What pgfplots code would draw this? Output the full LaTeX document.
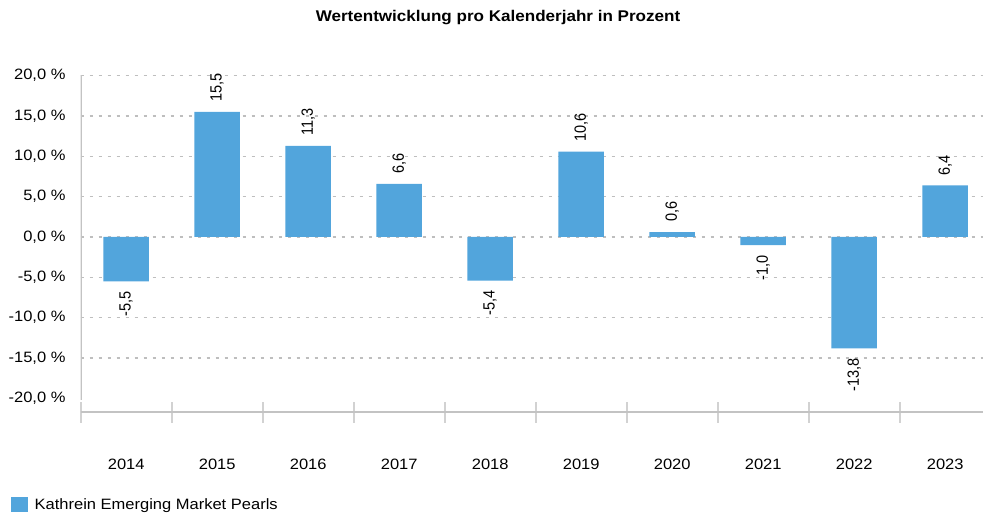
\documentclass[border=0pt]{standalone}
\usepackage{fontspec}
\setmainfont{Liberation Sans}[FakeStretch=1.1]
\newfontfamily\lblfont{Liberation Sans}
\usepackage{pgfplots}
\pgfplotsset{compat=1.18}
\definecolor{barblue}{RGB}{82,165,220}
\definecolor{gridgray}{RGB}{190,190,190}
\definecolor{axisgray}{RGB}{195,195,195}
\definecolor{tickgray}{RGB}{210,210,210}
\begin{document}
\fontsize{15bp}{18bp}\selectfont
\begin{tikzpicture}
\begin{axis}[
  at={(80.7bp,-412bp)}, anchor=south west,
  scale only axis, width=910bp, height=336.3bp,
  xmin=-0.5, xmax=9.5, ymin=-21.7, ymax=20,
  ybar, bar width=0.5,
  axis line style={draw=none},
  tick pos=left,
  xtick={0,...,9},
  xticklabels={2014,2015,2016,2017,2018,2019,2020,2021,2022,2023},
  minor xtick={-0.5,0.5,...,9.5},
  major tick length=0pt,
  minor tick length=21bp,
  tick align=center,
  minor tick style={draw=tickgray, line width=2bp},
  xticklabel style={yshift=-42bp, font=\fontsize{15bp}{18bp}\selectfont},
  ytick={-15,-10,...,20},
  yticklabels={-15{,}0 \%,-10{,}0 \%,-5{,}0 \%,0{,}0 \%,5{,}0 \%,10{,}0 \%,15{,}0 \%,20{,}0 \%},
  extra y ticks={-20},
  extra y tick labels={-20{,}0 \%},
  extra y tick style={grid=none},
  yticklabel style={xshift=-10bp, font=\fontsize{15bp}{18bp}\selectfont},
  ymajorgrids,
  major grid style={draw=gridgray, line width=1.3bp, dash pattern=on 3bp off 6bp},
  point meta=explicit symbolic,
  nodes near coords,
  every node near coord/.append style={rotate=90, yscale=1.12, inner xsep=10bp, inner ysep=0pt, font=\lblfont\fontsize{14.5bp}{17bp}\selectfont, text=black},
  legend style={draw=none, fill=none, at={(rel axis cs:-0.0766,-0.2765)}, anchor=west, inner sep=0pt,
    font=\fontsize{15bp}{18bp}\selectfont},
  legend cell align=left,
  legend image code/.code={\fill[barblue] (0bp,-7.5bp) rectangle (16.7bp,7.5bp); \path (21.5bp,0bp);},
]
\addplot[fill=barblue, draw=none, bar shift=0pt,
  every node near coord/.append style={anchor=west}]
  coordinates {(1,15.5)[15,5] (2,11.3)[11,3] (3,6.6)[6,6] (5,10.6)[10,6] (6,0.6)[0,6] (9,6.4)[6,4]};
\addlegendentry{Kathrein Emerging Market Pearls}
\addplot[fill=barblue, draw=none, bar shift=0pt, forget plot,
  every node near coord/.append style={anchor=east}]
  coordinates {(0,-5.5)[-5,5] (4,-5.4)[-5,4] (7,-1.0)[-1,0] (8,-13.8)[-13,8]};
\draw[draw=axisgray, line width=2bp] (axis cs:-0.5,20.2) -- (axis cs:-0.5,-20.2);
\draw[draw=axisgray, line width=1.5bp] (axis cs:-0.5,-21.7) -- (axis cs:9.5,-21.7);
\end{axis}
\node[font=\bfseries\fontsize{15.5bp}{18bp}\selectfont] at (498bp,-18bp) {Wertentwicklung pro Kalenderjahr in Prozent};
\pgfresetboundingbox
\useasboundingbox (0,0) rectangle (983bp,-517bp);
\end{tikzpicture}
\end{document}
